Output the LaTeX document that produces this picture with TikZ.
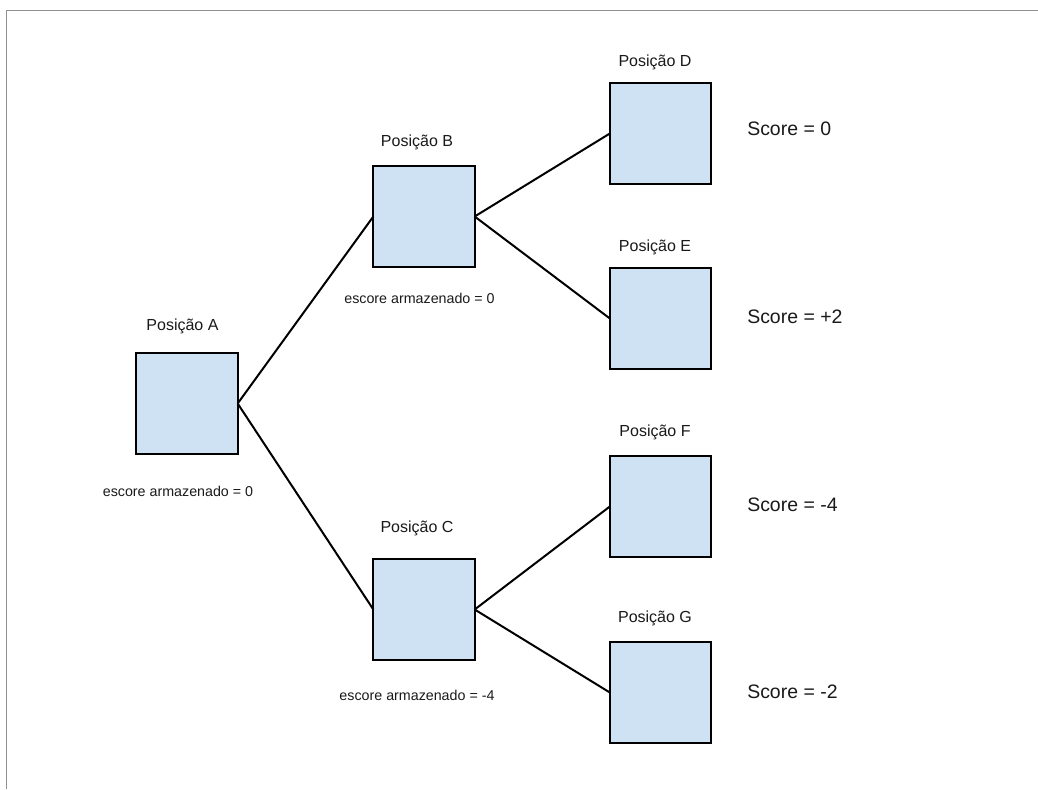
\documentclass[tikz,border=0pt]{standalone}
\usepackage{fontspec}
\setmainfont{Liberation Sans}
\definecolor{boxfill}{HTML}{CFE2F3}
\definecolor{framegray}{HTML}{909090}
\definecolor{txt}{HTML}{1A1A1A}
\begin{document}
\begin{tikzpicture}[x=0.75pt,y=-0.75pt,
  posbox/.style={draw=black,fill=boxfill,line width=1.5pt,minimum size=76pt,inner sep=0pt,outer sep=0pt},
  linkline/.style={draw=black,line width=1.5pt},
  titlelbl/.style={anchor=base,inner sep=0pt,text=txt,font=\fontsize{12pt}{14pt}\selectfont},
  storedlbl/.style={anchor=base,inner sep=0pt,text=txt,font=\fontsize{10.7pt}{12pt}\selectfont},
  scorelbl/.style={anchor=base west,inner sep=0pt,text=txt,font=\fontsize{14.6pt}{17pt}\selectfont}]
\useasboundingbox (0,0) rectangle (1038,789);
\fill[white] (0,0) rectangle (1038,789);
% frame
\draw[framegray,line width=1.1pt] (6.5,789) -- (6.5,10.5) -- (1038,10.5);
% boxes
\node[posbox] (A) at (187,403.5) {};
\node[posbox] (B) at (424,216.5) {};
\node[posbox] (C) at (424,609.5) {};
\node[posbox] (D) at (660.5,133.5) {};
\node[posbox] (E) at (660.5,318.5) {};
\node[posbox] (F) at (660.5,506.5) {};
\node[posbox] (G) at (660.5,692.5) {};
% connectors
\draw[linkline] (A.east) -- (B.west);
\draw[linkline] (A.east) -- (C.west);
\draw[linkline] (B.east) -- (D.west);
\draw[linkline] (B.east) -- (E.west);
\draw[linkline] (C.east) -- (F.west);
\draw[linkline] (C.east) -- (G.west);
% titles
\node[titlelbl] (tA) at (182.5,330) {Posição A};
\node[titlelbl] (tB) at (417,146.7) {Posição B};
\node[titlelbl] (tC) at (417,532.3) {Posição C};
\node[titlelbl] (tD) at (655,66.7) {Posição D};
\node[titlelbl] (tE) at (655,251.7) {Posição E};
\node[titlelbl] (tF) at (655,436) {Posição F};
\node[titlelbl] (tG) at (655,622) {Posição G};
% stored scores
\node[storedlbl] (sA) at (178,496.7) {escore armazenado = 0};
\node[storedlbl] (sB) at (419.5,303.3) {escore armazenado = 0};
\node[storedlbl] (sC) at (417,700) {escore armazenado = -4};
% leaf scores
\node[scorelbl] (scD) at (747,135) {Score = 0};
\node[scorelbl] (scE) at (747,323.3) {Score = +2};
\node[scorelbl] (scF) at (747,511.7) {Score = -4};
\node[scorelbl] (scG) at (747,698) {Score = -2};
\end{tikzpicture}
\end{document}
